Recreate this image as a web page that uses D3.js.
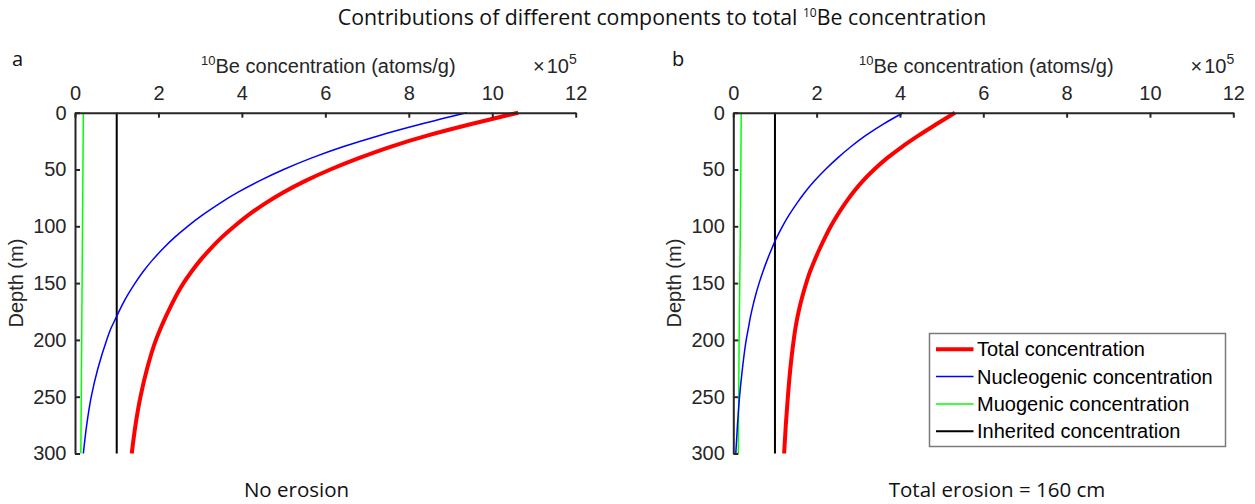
<!DOCTYPE html>
<html>
<head>
<meta charset="utf-8">
<script src="https://cdn.jsdelivr.net/npm/d3@7"></script>
<style>
  html, body { margin: 0; padding: 0; background: #fff; }
  svg { display: block; }
</style>
</head>
<body>
<svg id="chart" width="1255" height="504"></svg>
<script>
// ---------------- DATA ----------------
const depthTicks = [0, 50, 100, 150, 200, 250, 300];
const concTicks = [0, 2, 4, 6, 8, 10, 12];

// depth (m) at which the curves were read
const depthGrid = [0, 10, 20, 30, 40, 50, 60, 70, 80, 90, 100, 110, 120, 130, 140, 150, 160, 170, 180, 190, 200, 225, 250, 275, 300];

// Panel a (no erosion), concentration in 1e5 atoms/g
const aTotal  = [10.62, 9.50, 8.46, 7.56, 6.80, 6.12, 5.52, 5.00, 4.55, 4.16, 3.82, 3.51, 3.24, 3.00, 2.79, 2.60, 2.44, 2.30, 2.17, 2.05, 1.94, 1.73, 1.57, 1.45, 1.36];
const aNucleo = [9.39, 8.30, 7.30, 6.42, 5.66, 5.00, 4.42, 3.91, 3.46, 3.06, 2.70, 2.38, 2.10, 1.85, 1.63, 1.44, 1.27, 1.12, 0.99, 0.86, 0.76, 0.55, 0.39, 0.28, 0.20];
const muoDepth = [0, 100, 200, 300];
const aMuo    = [0.20, 0.18, 0.16, 0.14];
const inhDepth = [0, 300];
const aInh    = [1, 1];

// Panel b (total erosion = 160 cm)
const bTotal  = [5.32, 4.88, 4.45, 4.05, 3.69, 3.38, 3.11, 2.88, 2.68, 2.50, 2.34, 2.20, 2.07, 1.95, 1.84, 1.75, 1.67, 1.60, 1.54, 1.49, 1.45, 1.37, 1.31, 1.26, 1.22];
const bNucleo = [4.08, 3.60, 3.18, 2.82, 2.50, 2.21, 1.95, 1.72, 1.52, 1.34, 1.18, 1.04, 0.92, 0.81, 0.71, 0.62, 0.54, 0.47, 0.41, 0.36, 0.31, 0.22, 0.15, 0.10, 0.06];
const bMuo    = [0.19, 0.17, 0.14, 0.12];
const bInh    = [1, 1];

const seriesNames = ["Total concentration", "Nucleogenic concentration", "Muogenic concentration", "Inherited concentration"];
const seriesColors = ["#ff0000", "#0000ff", "#00ff00", "#000000"];
const seriesWidths = [4, 1.5, 1.5, 2];

const panelLetters = ["a", "b"];
const panelCaptions = ["No erosion", "Total erosion = 160 cm"];
const chartTitle = "Contributions of different components to total ";

// ---------------- DRAW ----------------
const svg = d3.select("#chart");
const axisFont = "'Liberation Sans', Arial, Helvetica, sans-serif";
const myriadFont = "'Open Sans', 'Noto Sans', sans-serif";
const axisColor = "#262626";

const panels = [
  { x0: 75, x1: 575.7, letterX: 12, captionX: 296.5,
    data: [[depthGrid, aTotal], [depthGrid, aNucleo], [muoDepth, aMuo], [inhDepth, aInh]] },
  { x0: 733.3, x1: 1233.3, letterX: 672, captionX: 997,
    data: [[depthGrid, bTotal], [depthGrid, bNucleo], [muoDepth, bMuo], [inhDepth, bInh]] }
];
const yTop = 112.7, yBot = 453.5;

// Title
const title = svg.append("text")
  .attr("x", 662).attr("y", 25)
  .attr("text-anchor", "middle")
  .style("font-family", myriadFont)
  .style("font-size", "21.3px")
  .attr("fill", "#111");
title.append("tspan").text(chartTitle);
title.append("tspan").attr("dy", -8).style("font-size", "12px").text("10");
title.append("tspan").attr("dy", 8).text("Be concentration");

panels.forEach((p, i) => {
  const x = d3.scaleLinear().domain([0, 12]).range([p.x0, p.x1]);
  const y = d3.scaleLinear().domain([0, 300]).range([yTop, yBot]);
  const g = svg.append("g");

  const line = d3.line().curve(d3.curveMonotoneY);
  const order = [3, 2, 1, 0];
  order.forEach(k => {
    const [dArr, vArr] = p.data[k];
    const pts = dArr.map((d, j) => [x(vArr[j]), y(d)]);
    g.append("path")
      .attr("d", line(pts))
      .attr("fill", "none")
      .attr("stroke", seriesColors[k])
      .attr("stroke-width", seriesWidths[k]);
  });

  // top axis
  const xAxis = d3.axisTop(x).tickValues(concTicks).tickFormat(d3.format("d"))
    .tickSizeInner(-5).tickSizeOuter(0).tickPadding(12.5);
  const gx = g.append("g").attr("transform", `translate(0,${yTop})`).call(xAxis);
  // left axis
  const yAxis = d3.axisLeft(y).tickValues(depthTicks).tickFormat(d3.format("d"))
    .tickSizeInner(-5).tickSizeOuter(0).tickPadding(8.5);
  const gy = g.append("g").attr("transform", `translate(${p.x0},0)`).call(yAxis);

  [gx, gy].forEach(ax => {
    ax.select(".domain").attr("stroke", axisColor).attr("stroke-width", 2);
    ax.selectAll(".tick line").attr("stroke", axisColor).attr("stroke-width", 2);
    ax.selectAll(".tick text").attr("fill", axisColor)
      .style("font-family", axisFont).style("font-size", "20px");
  });

  // x axis label
  const xl = g.append("text")
    .attr("x", (p.x0 + p.x1) / 2 + 3).attr("y", 73)
    .attr("text-anchor", "middle")
    .style("font-family", axisFont).style("font-size", "20px")
    .attr("fill", axisColor);
  xl.append("tspan").attr("dy", -8).style("font-size", "13px").text("10");
  xl.append("tspan").attr("dy", 8).text("Be concentration (atoms/g)");

  // exponent label
  const ex = g.append("text")
    .attr("x", p.x1 + 1).attr("y", 73)
    .attr("text-anchor", "end")
    .style("font-family", axisFont).style("font-size", "20px")
    .attr("fill", axisColor);
  ex.append("tspan").style("font-weight", "300").text("\u00d7");
  ex.append("tspan").attr("dx", 2).text("10");
  ex.append("tspan").attr("dy", -9).style("font-size", "14px").text("5");

  // y axis label
  g.append("text")
    .attr("transform", `translate(${p.x0 - 52},${(yTop + yBot) / 2}) rotate(-90)`)
    .attr("text-anchor", "middle")
    .style("font-family", axisFont).style("font-size", "20px")
    .attr("fill", axisColor)
    .text("Depth (m)");

  // panel letter
  g.append("text")
    .attr("x", p.letterX).attr("y", 66)
    .style("font-family", myriadFont).style("font-size", "20px")
    .attr("fill", "#111")
    .text(panelLetters[i]);

  // caption
  g.append("text")
    .attr("x", p.captionX).attr("y", 497)
    .attr("text-anchor", "middle")
    .style("font-family", myriadFont).style("font-size", "20.5px")
    .attr("fill", "#111")
    .text(panelCaptions[i]);
});

// Legend (in panel b)
const lg = svg.append("g");
lg.append("rect")
  .attr("x", 929.5).attr("y", 333.5)
  .attr("width", 296).attr("height", 113)
  .attr("fill", "#fff").attr("stroke", "#7a7a7a").attr("stroke-width", 1.5);
const rowY = [349.3, 376.6, 403.9, 431.2];
seriesNames.forEach((name, k) => {
  lg.append("line")
    .attr("x1", 936).attr("x2", 973.5)
    .attr("y1", rowY[k]).attr("y2", rowY[k])
    .attr("stroke", seriesColors[k]).attr("stroke-width", seriesWidths[k]);
  lg.append("text")
    .attr("x", 977).attr("y", rowY[k])
    .attr("dy", "0.35em")
    .style("font-family", axisFont).style("font-size", "20px")
    .attr("fill", "#000")
    .text(name);
});
</script>
</body>
</html>
